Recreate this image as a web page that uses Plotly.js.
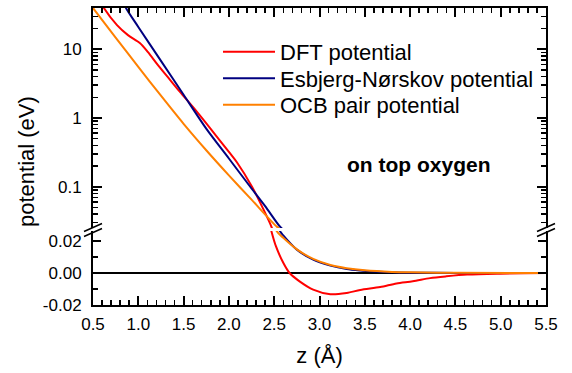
<!DOCTYPE html>
<html>
<head>
<meta charset="utf-8">
<script src="https://cdn.plot.ly/plotly-3.0.1.min.js"></script>
<style>html,body{margin:0;padding:0;background:#fff;}#chart{width:572px;height:373px;}</style>
</head>
<body>
<div id="chart"></div>
<script>
// ---- data ----
const seriesNames = ['DFT potential', 'Esbjerg-Nørskov potential', 'OCB pair potential'];

const zDFT = [0.58, 0.61, 0.765, 0.886, 1.02, 1.107, 1.217, 1.35, 1.46, 1.648, 1.79, 2.0, 2.09, 2.255, 2.38, 2.47, 2.52, 2.6, 2.67, 2.78, 2.93, 3.12, 3.3, 3.45, 3.67, 3.85, 4.03, 4.22, 4.4, 4.63, 4.96, 5.5];
const vDFT = [50, 42, 22.5, 16.1, 12.3, 9.1, 5.9, 3.6, 2.4, 1.23, 0.72, 0.32, 0.225, 0.1, 0.047, 0.026, 0.0166, 0.0064, 0.0, -0.0052, -0.0104, -0.0133, -0.0125, -0.0106, -0.0088, -0.0065, -0.0052, -0.0032, -0.0021, -0.001, -0.0004, 0.0];

const zEN = [0.84, 0.864, 1.0, 1.25, 1.5, 1.75, 2.0, 2.25, 2.4, 2.56, 2.6, 2.75, 2.93, 3.12, 3.3, 3.45, 3.6, 3.8, 4.0, 4.5, 5.5];
const vEN = [48, 40, 21.2, 6.8, 2.18, 0.70, 0.257, 0.094, 0.052, 0.0265, 0.0235, 0.0146, 0.0083, 0.0046, 0.0025, 0.0016, 0.001, 0.0004, 0.0002, 0.00005, 0.0];

const zOCB = [0.5, 0.75, 1.0, 1.25, 1.5, 1.75, 2.0, 2.25, 2.53, 2.6, 2.75, 2.93, 3.12, 3.3, 3.5, 3.8, 4.0, 4.5, 5.5];
const vOCB = [40, 14.8, 5.56, 2.11, 0.822, 0.339, 0.146, 0.0646, 0.026, 0.022, 0.0148, 0.0088, 0.005, 0.003, 0.0017, 0.0007, 0.0004, 0.0001, 0.0];

const xTickVals = [0.5, 1.0, 1.5, 2.0, 2.5, 3.0, 3.5, 4.0, 4.5, 5.0, 5.5];
const logTickVals = [0.1, 1, 10];
const logTickText = ['0.1', '1', '10'];
const logMinorTickVals = [0.03, 0.04, 0.05, 0.06, 0.07, 0.08, 0.09, 0.2, 0.3, 0.4, 0.5, 0.6, 0.7, 0.8, 0.9, 2, 3, 4, 5, 6, 7, 8, 9, 20, 30];
const linTickVals = [-0.02, 0.0, 0.02];
const linTickText = ['-0.02', '0.00', '0.02'];

// ---- styling ----
const colors = ['#ff0000', '#000080', '#ff8000'];
const zs = [zDFT, zEN, zOCB];
const vs = [vDFT, vEN, vOCB];
const legendIds = ['legend', 'legend2', 'legend3'];

const traces = [];
for (let i = 0; i < 3; i++) {
  traces.push({
    x: zs[i], y: vs[i], xaxis: 'x2', yaxis: 'y2', type: 'scatter', mode: 'lines',
    name: seriesNames[i], legend: legendIds[i],
    line: {color: colors[i], width: 2, shape: 'spline', smoothing: 0.8},
    showlegend: true, hoverinfo: 'skip'
  });
}
for (let i = 0; i < 3; i++) {
  traces.push({
    x: zs[i], y: vs[i], xaxis: 'x', yaxis: 'y', type: 'scatter', mode: 'lines',
    name: seriesNames[i], line: {color: colors[i], width: 2, shape: 'spline', smoothing: 0.8},
    showlegend: false, hoverinfo: 'skip'
  });
}
// empty carrier trace so the log minor-tick axis is drawn
traces.push({x: [], y: [], xaxis: 'x2', yaxis: 'y3', type: 'scatter', mode: 'lines', showlegend: false, hoverinfo: 'skip'});

const L = 93, R = 546, T = 8, B = 305;
const px = v => (v - L) / (R - L);
const py = v => (B - v) / (B - T);

const axCommon = {
  showline: true, linecolor: '#000', linewidth: 2, showgrid: false, zeroline: false,
  ticks: 'inside', tickcolor: '#000', tickwidth: 2
};

function breakMark(xpx) {
  return [
    {type: 'line', xref: 'paper', yref: 'paper', x0: px(xpx - 9), y0: py(231.5), x1: px(xpx + 9), y1: py(223.5), line: {color: '#000', width: 1.5}, layer: 'above'},
    {type: 'line', xref: 'paper', yref: 'paper', x0: px(xpx - 9), y0: py(236.5), x1: px(xpx + 9), y1: py(228.5), line: {color: '#000', width: 1.5}, layer: 'above'}
  ];
}

function legendAt(topPx) {
  return {
    x: px(218), y: py(topPx), xanchor: 'left', yanchor: 'top',
    bgcolor: 'rgba(0,0,0,0)', font: {size: 22}, itemwidth: 52
  };
}

const logRange = [Math.log10(0.025), Math.log10(40)];

const layout = {
  width: 572, height: 373,
  margin: {l: L, r: 572 - R, t: T, b: 373 - B},
  paper_bgcolor: '#fff', plot_bgcolor: '#fff',
  font: {family: '"Liberation Sans", Arial, sans-serif', color: '#000', size: 17},
  showlegend: true,
  legend: legendAt(31),
  legend2: legendAt(57.5),
  legend3: legendAt(84),
  xaxis: Object.assign({}, axCommon, {
    domain: [0, 1], anchor: 'y', range: [0.5, 5.5],
    tickmode: 'array', tickvals: xTickVals, tickformat: '.1f', ticklen: 9,
    minor: {ticks: 'inside', ticklen: 5, tickwidth: 1.5, dtick: 0.1, tick0: 0.5, tickcolor: '#000', showgrid: false},
    title: {text: 'z (Å)', font: {size: 22}, standoff: 14},
    ticklabelstandoff: 3
  }),
  xaxis2: Object.assign({}, axCommon, {
    domain: [0, 1], anchor: 'y2', matches: 'x', side: 'top', showticklabels: false,
    tickmode: 'array', tickvals: xTickVals, ticklen: 9,
    minor: {ticks: 'inside', ticklen: 5, tickwidth: 1.5, dtick: 0.1, tick0: 0.5, tickcolor: '#000', showgrid: false}
  }),
  yaxis: Object.assign({}, axCommon, {
    domain: [0, py(231)], anchor: 'x', range: [-0.02, 0.02625],
    tickmode: 'array', tickvals: linTickVals, ticktext: linTickText, ticklen: 8,
    minor: {ticks: 'inside', ticklen: 5, tickwidth: 1.5, dtick: 0.01, tick0: 0, tickcolor: '#000', showgrid: false},
    mirror: 'ticks',
    zeroline: true, zerolinecolor: '#000', zerolinewidth: 2.5,
    ticklabelstandoff: 6
  }),
  yaxis2: Object.assign({}, axCommon, {
    domain: [py(228), 1], anchor: 'x2', type: 'log', range: logRange,
    tickmode: 'array', tickvals: logTickVals, ticktext: logTickText, ticklen: 9,
    mirror: 'ticks',
    ticklabelstandoff: 6
  }),
  yaxis3: {
    overlaying: 'y2', anchor: 'x2', type: 'log', range: logRange,
    tickmode: 'array', tickvals: logMinorTickVals, showticklabels: false,
    ticks: 'inside', ticklen: 5, tickwidth: 1.5, tickcolor: '#000',
    showline: false, showgrid: false, zeroline: false, mirror: 'ticks'
  },
  annotations: [
    {text: '<b>on top oxygen</b>', xref: 'paper', yref: 'paper', x: px(418.5), y: py(164),
     xanchor: 'center', yanchor: 'middle', showarrow: false, font: {size: 21}},
    {text: 'potential (eV)', xref: 'paper', yref: 'paper', x: px(26), y: py(162),
     xanchor: 'center', yanchor: 'middle', showarrow: false, textangle: -90, font: {size: 22}}
  ],
  shapes: breakMark(L).concat(breakMark(R))
};

Plotly.newPlot('chart', traces, layout, {staticPlot: true, displayModeBar: false});
</script>
</body>
</html>
